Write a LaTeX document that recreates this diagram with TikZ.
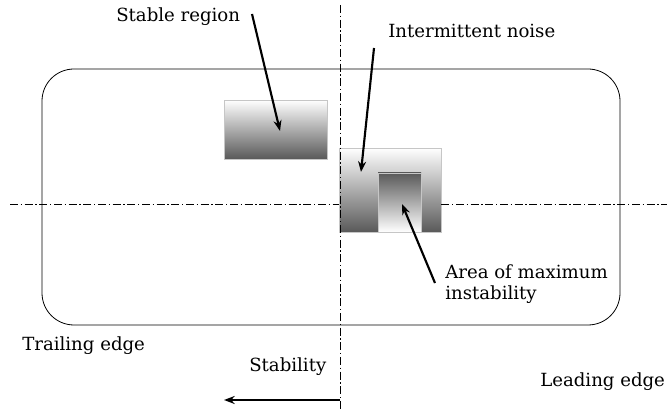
\documentclass[tikz,border=0pt]{standalone}
\usepackage{fontspec}
\setmainfont{DejaVu Serif}
\usetikzlibrary{arrows.meta}
\begin{document}
\begin{tikzpicture}[x=0.75pt,y=-0.75pt,
  lbl/.style={font=\fontsize{13.6}{15.8}\selectfont, inner sep=0pt},
  dashdot/.style={line width=0.6pt, dash pattern=on 6pt off 2pt on 1pt off 2pt},
  grad/.style={draw=gray!45, line width=0.6pt, top color=white, bottom color=black!65},
  rgrad/.style={draw=gray!45, line width=0.6pt, top color=black!65, bottom color=white},
  ptr/.style={-{Stealth[length=8pt,width=6pt]}, line width=1.6pt}]
\useasboundingbox (0,0) rectangle (667,409);
% frame
\node[draw, line width=0.6pt, rounded corners=24pt, minimum width=578*0.75pt, minimum height=256*0.75pt, inner sep=0pt] (frame) at (331,197) {};
% boxes
\node[grad, minimum width=103*0.75pt, minimum height=59*0.75pt, inner sep=0pt] (stable) at (275.5,129.5) {};
\node[grad, minimum width=102*0.75pt, minimum height=84*0.75pt, inner sep=0pt] (noise) at (390,190) {};
\node[rgrad, minimum width=43*0.75pt, minimum height=59*0.75pt, inner sep=0pt] (maxi) at (399.5,202.5) {};
% axes
\coordinate (vt) at (340,5);
\coordinate (vb) at (340,409);
\coordinate (hl) at (10,204);
\coordinate (hr) at (667,204);
\draw[dashdot] (vt) -- (vb);
\draw[dashdot] (hl) -- (noise.west |- hl);
\draw[dashdot] (noise.east |- hr) -- (hr);
% labels
\node[lbl, anchor=base west] (tstable) at (116,22) {Stable region};
\node[lbl, anchor=base west] (tnoise) at (388,38) {Intermittent noise};
\node[lbl, anchor=base west, align=left] (tmax) at (445,300) {Area of maximum\\instability};
\node[lbl, anchor=base west] (ttrail) at (22,350) {Trailing edge};
\node[lbl, anchor=base west] (tlead) at (540,386) {Leading edge};
\node[lbl, anchor=base west] (tstab) at (249,371) {Stability};
% pointers
\coordinate (s1) at (252,14);
\coordinate (s2) at (280,131);
\draw[ptr] (s1) -- (s2);
\coordinate (n1) at (374,48);
\coordinate (n2) at (361,172);
\draw[ptr] (n1) -- (n2);
\coordinate (m1) at (435,283);
\coordinate (m2) at (402,204);
\draw[ptr] (m1) -- (m2);
\coordinate (a1) at (340,400);
\coordinate (a2) at (224,400);
\draw[ptr] (a1) -- (a2);
\end{tikzpicture}
\end{document}
